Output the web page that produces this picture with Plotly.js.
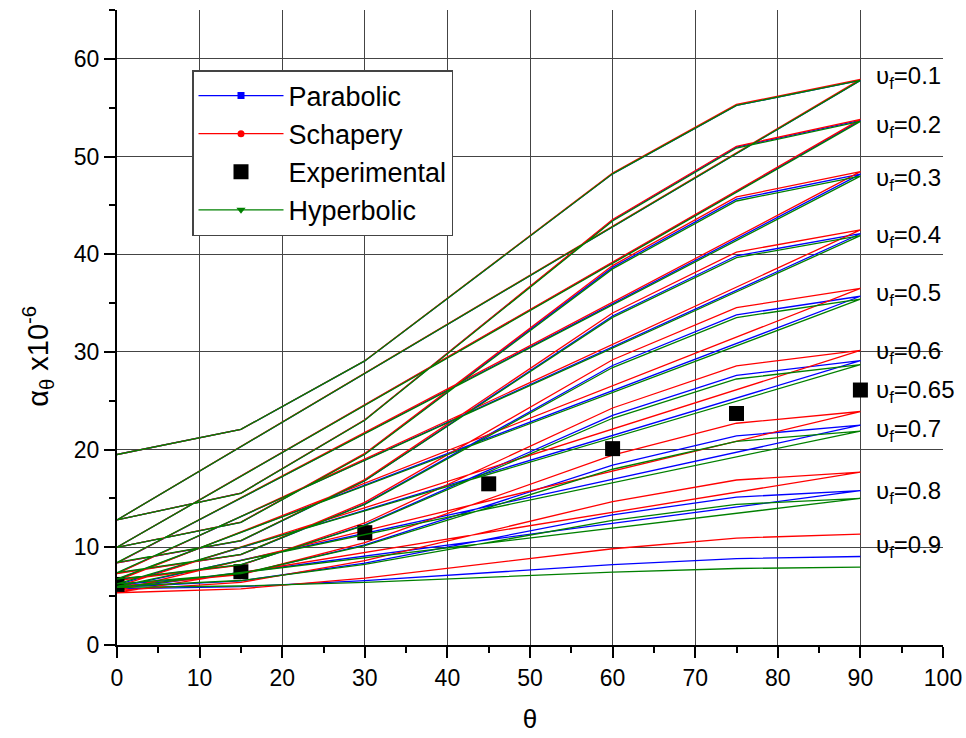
<!DOCTYPE html>
<html>
<head>
<meta charset="utf-8">
<script src="https://cdn.plot.ly/plotly-3.0.1.min.js"></script>
<style>html,body{margin:0;padding:0;background:#fff;}#chart{width:966px;height:738px;}</style>
</head>
<body>
<div id="chart"></div>
<script>
// fibre angle theta (deg)
var angles = [0, 15, 30, 45, 60, 75, 90];
// fibre volume fractions of the model curves
var vf = [0.1, 0.2, 0.3, 0.4, 0.5, 0.6, 0.7, 0.8, 0.9];
// labels shown at right (0.65 = experimental specimen)
var vfLabels = ['0.1', '0.2', '0.3', '0.4', '0.5', '0.6', '0.65', '0.7', '0.8', '0.9'];
var vfLabelY = [58.05, 53.1, 47.7, 41.85, 35.9, 29.9, 25.9, 22.0, 15.6, 10.05];

// alpha_theta x1e-6, one row per vf, columns = angles
var parabolic = [
  [19.5, 22.07, 29.08, 38.65, 48.23, 55.23, 57.8],
  [12.8, 15.54, 23.03, 33.25, 43.48, 50.96, 53.7],
  [10.0, 12.56, 19.55, 29.1, 38.65, 45.64, 48.2],
  [8.4, 10.66, 16.83, 25.25, 33.68, 39.84, 42.1],
  [7.35, 9.25, 14.44, 21.53, 28.61, 33.8, 35.7],
  [6.7, 8.2, 12.3, 17.9, 23.5, 27.6, 29.1],
  [6.15, 7.25, 10.24, 14.33, 18.41, 21.4, 22.5],
  [5.9, 6.56, 8.38, 10.85, 13.33, 15.14, 15.8],
  [5.75, 5.97, 6.58, 7.41, 8.23, 8.84, 9.06]
];
var schapery = [
  [19.5, 22.07, 29.1, 38.7, 48.3, 55.33, 57.9],
  [12.8, 15.55, 23.05, 33.3, 43.55, 51.05, 53.8],
  [10.0, 12.58, 19.61, 29.23, 38.84, 45.87, 48.45],
  [8.4, 10.68, 16.93, 25.45, 33.98, 40.22, 42.5],
  [7.3, 9.26, 14.6, 21.9, 29.2, 34.54, 36.5],
  [6.6, 8.18, 12.49, 18.38, 24.26, 28.57, 30.15],
  [6.0, 7.2, 10.48, 14.95, 19.43, 22.7, 23.9],
  [5.6, 6.41, 8.63, 11.65, 14.68, 16.89, 17.7],
  [5.35, 5.75, 6.85, 8.35, 9.85, 10.95, 11.35]
];
var hyperbolic = [
  [19.5, 22.07, 29.08, 38.65, 48.23, 55.23, 57.8],
  [12.8, 15.53, 23.0, 33.2, 43.4, 50.87, 53.6],
  [10.0, 12.55, 19.5, 29.0, 38.5, 45.45, 48.0],
  [8.45, 10.69, 16.81, 25.18, 33.54, 39.66, 41.9],
  [7.4, 9.28, 14.4, 21.4, 28.4, 33.52, 35.4],
  [6.75, 8.22, 12.24, 17.73, 23.21, 27.23, 28.7],
  [6.25, 7.3, 10.16, 14.08, 17.99, 20.85, 21.9],
  [6.0, 6.6, 8.25, 10.5, 12.75, 14.4, 15.0],
  [5.9, 6.04, 6.42, 6.94, 7.45, 7.83, 7.97]
];
var experimental = [6.2, 7.5, 11.5, 16.5, 20.1, 23.7, 26.1];

function flatX(rows) { var x = []; rows.forEach(function () { x = x.concat(angles); }); return x; }
function flatY(rows) { var y = []; rows.forEach(function (r) { y = y.concat(r); }); return y; }

var FONT = 'Arial, "Liberation Sans", sans-serif';

function modelTrace(rows, color) {
  return { x: flatX(rows), y: flatY(rows), type: 'scatter', mode: 'lines',
    line: { color: color, width: 1.3 }, showlegend: false, hoverinfo: 'x+y' };
}
function legendTrace(name, color, symbol, size) {
  return { x: [null], y: [null], type: 'scatter', mode: 'lines+markers', name: name,
    line: { color: color, width: 1.3 }, marker: { color: color, symbol: symbol, size: size } };
}

var data = [
  modelTrace(parabolic, '#0000ff'),
  modelTrace(schapery, '#ff0000'),
  { x: angles, y: experimental, type: 'scatter', mode: 'markers', showlegend: false,
    marker: { color: '#000', symbol: 'square', size: 15 } },
  modelTrace(hyperbolic, '#008000'),
  legendTrace('Parabolic', '#0000ff', 'square', 7),
  legendTrace('Schapery', '#ff0000', 'circle', 7),
  { x: [null], y: [null], type: 'scatter', mode: 'markers', name: 'Experimental',
    marker: { color: '#000', symbol: 'square', size: 15 } },
  legendTrace('Hyperbolic', '#008000', 'triangle-down', 8)
];

var annotations = vfLabels.map(function (v, i) {
  return { x: 91.6, y: vfLabelY[i], xref: 'x', yref: 'y', xanchor: 'left', yanchor: 'middle',
    text: '\u03c5<sub>f</sub>=' + v, showarrow: false, font: { family: FONT, size: 24, color: '#000' } };
});
// y-axis title, placed like the reference (slightly below the plot centre)
annotations.push({ x: -0.096, y: 0.455, xref: 'paper', yref: 'paper', xanchor: 'center', yanchor: 'middle',
  textangle: -90, showarrow: false, text: '\u03b1<sub>\u03b8</sub> x10<sup>-6</sup>',
  font: { family: FONT, size: 29, color: '#000' } });

var axisCommon = {
  showline: true, linecolor: '#000', linewidth: 2,
  ticks: 'outside', ticklen: 11, tickwidth: 2, tickcolor: '#000',
  showgrid: true, gridcolor: '#444', gridwidth: 1, zeroline: false,
  tickfont: { family: FONT, size: 23, color: '#000' }
};

var layout = {
  width: 966, height: 738,
  margin: { l: 117, r: 23, t: 10, b: 93 },
  paper_bgcolor: '#fff', plot_bgcolor: '#fff',
  font: { family: FONT, color: '#000' },
  xaxis: Object.assign({}, axisCommon, {
    range: [0, 100], dtick: 10, tick0: 0,
    minor: { dtick: 5, ticks: 'outside', ticklen: 6, tickwidth: 2, tickcolor: '#000', showgrid: false },
    title: { text: '\u03b8', font: { family: FONT, size: 26 }, standoff: 20 }
  }),
  yaxis: Object.assign({}, axisCommon, {
    range: [0, 65], dtick: 10, tick0: 0,
    minor: { dtick: 5, ticks: 'outside', ticklen: 6, tickwidth: 2, tickcolor: '#000', showgrid: false }
  }),
  legend: {
    x: 0.0908, y: 0.9055, xanchor: 'left', yanchor: 'top',
    bgcolor: '#fff', bordercolor: '#444', borderwidth: 1.5,
    font: { family: FONT, size: 27, color: '#000' }, itemwidth: 85
  },
  annotations: annotations
};

Plotly.newPlot('chart', data, layout, { displayModeBar: false, staticPlot: true });
</script>
</body>
</html>
